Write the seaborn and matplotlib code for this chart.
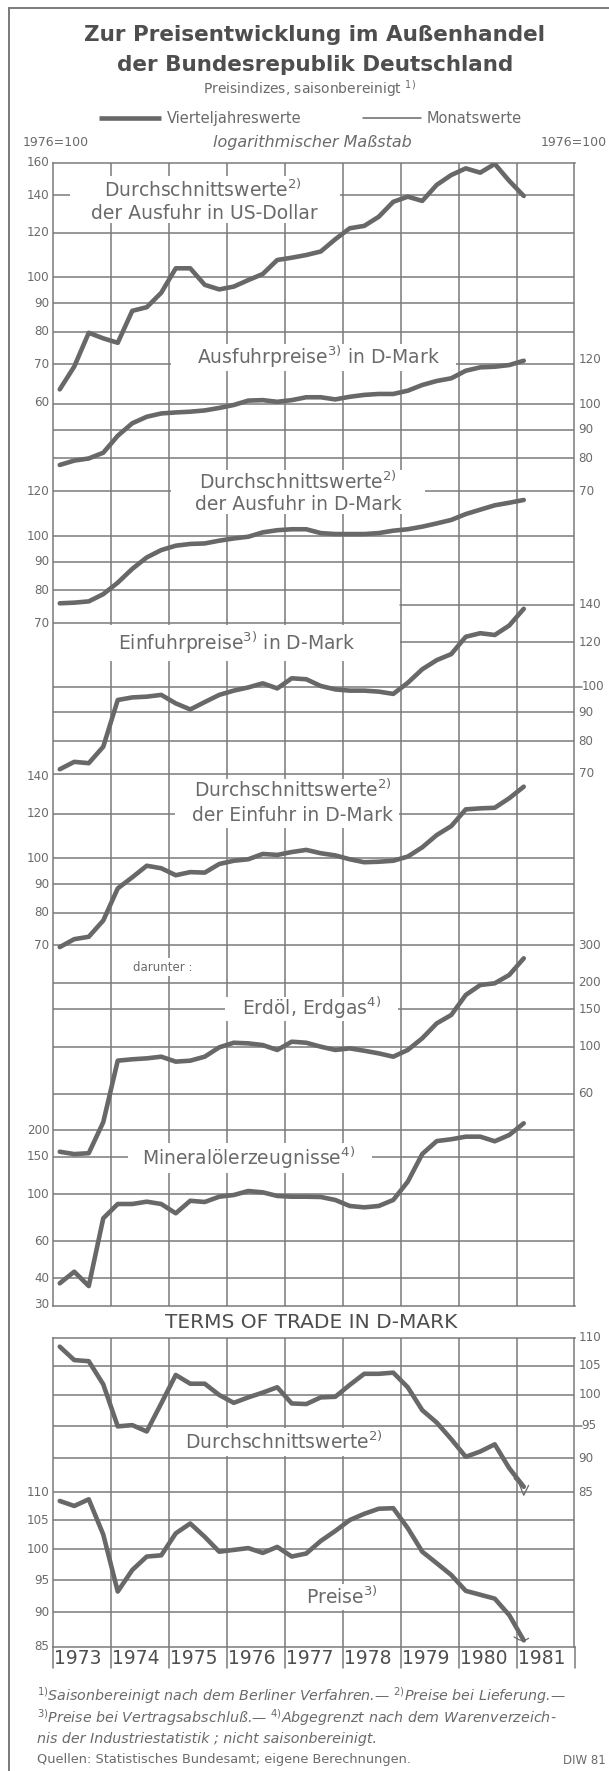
import matplotlib
matplotlib.use('Agg')
import matplotlib.pyplot as plt
from matplotlib.patches import Rectangle
import pandas as pd
import seaborn as sns

# --- Daten (Quartalswerte 1973 Q1 bis 1981 Q1, 1976 = 100) ---
QUARTERS = pd.period_range('1973Q1', '1981Q1', freq='Q')
YEAR_LABELS = ['1973', '1974', '1975', '1976', '1977', '1978', '1979', '1980', '1981']

EXP_USD = [63.2, 69.4, 79.7, 77.9, 76.5, 87.2, 88.5, 93.9, 103.8, 103.8, 97.0,
           95.2, 96.3, 98.9, 101.4, 107.4, 108.4, 109.6, 111.2, 116.9, 122.3,
           123.5, 128.2, 136.3, 139.2, 136.8, 146.1, 152.1, 156.3, 153.6, 159.2,
           148.5, 139.6]
EXP_PRICES = [77.9, 79.3, 80.0, 81.9, 87.8, 92.4, 94.9, 96.2, 96.6, 96.9, 97.4,
              98.4, 99.6, 101.4, 101.6, 100.9, 101.6, 102.8, 102.8, 101.9, 103.0,
              103.8, 104.2, 104.2, 105.6, 108.1, 109.9, 111.1, 114.6, 116.2,
              116.5, 117.3, 119.4]
EXP_AVG = [75.9, 76.1, 76.5, 78.8, 82.6, 87.4, 91.6, 94.4, 96.1, 96.8, 97.0,
           98.1, 99.0, 99.7, 101.5, 102.4, 102.8, 102.8, 101.2, 100.8, 100.8,
           100.8, 101.2, 102.2, 102.8, 103.9, 105.3, 106.8, 109.4, 111.4, 113.4,
           114.6, 115.9]
IMP_PRICES = [71.3, 73.5, 73.1, 78.2, 94.7, 95.7, 96.0, 96.7, 93.4, 91.1, 93.9,
              96.7, 98.4, 99.7, 101.4, 99.3, 103.5, 103.1, 100.3, 98.9, 98.4,
              98.4, 98.0, 97.1, 101.6, 107.4, 111.5, 114.3, 122.7, 124.5, 123.6,
              128.5, 137.6]
IMP_AVG = [69.5, 71.8, 72.5, 77.5, 88.4, 92.5, 97.0, 96.0, 93.3, 94.5, 94.3,
           97.7, 99.0, 99.6, 101.8, 101.4, 102.6, 103.5, 102.1, 101.2, 99.6,
           98.4, 98.6, 99.0, 100.7, 104.6, 110.0, 114.1, 122.2, 122.7, 123.0,
           127.9, 134.1]
OIL_GAS = [31.9, 31.1, 31.4, 44.0, 85.9, 87.2, 88.1, 89.7, 85.0, 85.9, 89.7,
           99.3, 104.4, 103.7, 101.8, 96.5, 105.6, 104.4, 100.0, 96.5, 98.2,
           95.7, 93.0, 89.7, 96.5, 109.6, 128.9, 141.2, 175.5, 195.6, 199.3,
           218.2, 261.5]
MINERAL = [37.9, 43.0, 36.8, 76.8, 89.7, 89.7, 92.0, 89.7, 81.1, 92.9, 91.7,
           97.1, 98.9, 103.3, 101.8, 97.9, 97.1, 97.1, 96.8, 93.7, 87.8, 86.5,
           87.8, 93.7, 114.3, 154.4, 177.7, 181.2, 186.4, 186.4, 177.3, 189.8,
           215.6]
TOT_AVG = [108.4, 106.0, 105.8, 101.8, 94.9, 95.1, 94.1, 98.6, 103.4, 101.9,
           101.9, 100.0, 98.7, 99.6, 100.4, 101.3, 98.6, 98.5, 99.6, 99.7, 101.7,
           103.6, 103.6, 103.8, 101.3, 97.5, 95.5, 92.9, 90.2, 91.0, 92.1, 88.5,
           85.8]
TOT_PRICES = [108.4, 107.5, 108.7, 102.5, 93.2, 96.6, 98.8, 99.0, 102.7, 104.4,
              102.1, 99.6, 99.9, 100.2, 99.4, 100.4, 98.8, 99.3, 101.4, 103.1,
              105.0, 106.1, 107.0, 107.1, 103.6, 99.6, 97.7, 95.8, 93.3, 92.7,
              92.1, 89.6, 85.9]

# Monatswerte am aktuellen Rand (Terms of Trade)
MONTHS = pd.period_range('1980-12', '1981-03', freq='M')
TOT_AVG_M = [87.0, 86.3, 84.6, 86.0]
TOT_PRICES_M = [86.4, 86.0, 85.8, 86.2]

# Skalenbeschriftungen
TICKS_EXP_USD = [160, 140, 120, 100, 90, 80, 70, 60]
TICKS_EXP_PRICES = [120, 100, 90, 80, 70]
TICKS_EXP_AVG = [120, 100, 90, 80, 70]
TICKS_IMP_PRICES = [140, 120, 100, 90, 80, 70]
TICKS_IMP_AVG = [140, 120, 100, 90, 80, 70]
TICKS_OIL = [300, 200, 150, 100, 60]
TICKS_MINERAL = [200, 150, 100, 60, 40, 30]
TICKS_TOT_AVG = [110, 105, 100, 95, 90, 85]
TICKS_TOT_PRICES = [110, 105, 100, 95, 90, 85]

# --- Layout (Pixel) ---
W, H, DPI = 609, 1771, 100
PX0, PX1 = 52.5, 574.5
MAIN = (162.7, 1306.0)
TOT = (1338.0, 1646.7)
LINE = '#686868'
GRID = '#7a7a7a'
TEXT = '#6a6a6a'
DARK = '#4e4e4e'
F = (1973, 1982)

sns.set_theme(style='white')
plt.rcParams['font.family'] = ['DejaVu Sans']
plt.rcParams['mathtext.fontset'] = 'dejavusans'

fig = plt.figure(figsize=(W / DPI, H / DPI), dpi=DPI, facecolor='white')


def rect(panel):
    top, bottom = panel
    return [PX0 / W, 1 - bottom / H, (PX1 - PX0) / W, (bottom - top) / H]


def yr(px):
    return 1973 + (px - PX0) * 9 / (PX1 - PX0)


def scale_axes(panel, y100, dec, z):
    top, bottom = panel
    ax = fig.add_axes(rect(panel), zorder=z)
    ax.set_yscale('log')
    ax.set_ylim(100 * 10 ** (-(bottom - y100) / dec), 100 * 10 ** ((y100 - top) / dec))
    ax.set_xlim(1973, 1982)
    ax.axis('off')
    ax.patch.set_visible(False)
    return ax


def overlay(z):
    ax = fig.add_axes([0, 0, 1, 1], zorder=z)
    ax.set_xlim(0, W)
    ax.set_ylim(H, 0)
    ax.axis('off')
    ax.patch.set_visible(False)
    return ax


# Rahmen und senkrechte Gitterlinien
for panel in (MAIN, TOT):
    ax = fig.add_axes(rect(panel), zorder=1)
    ax.set_xlim(1973, 1982)
    ax.set_xticks([])
    ax.set_yticks([])
    ax.patch.set_visible(False)
    for s in ax.spines.values():
        s.set_visible(True)
        s.set_color(GRID)
        s.set_linewidth(1.1)
    for y in range(1974, 1982):
        ax.axvline(y, color=GRID, lw=1.1)

quarter_x = QUARTERS.year + (QUARTERS.quarter - 0.5) / 4
month_x = MONTHS.year + (MONTHS.month - 0.5) / 12

scales = [
    (MAIN, 277.4, 562, 'left', TICKS_EXP_USD, EXP_USD,
     {140: F, 120: F, 100: F, 90: F, 80: F, 70: F}, []),
    (MAIN, 404.0, 562, 'right', TICKS_EXP_PRICES, EXP_PRICES,
     {100: F, 90: F, 80: F, 70: F}, []),
    (MAIN, 536.0, 562, 'left', TICKS_EXP_AVG, EXP_AVG,
     {100: F, 90: F, 80: (1973, 1979), 70: (1973, 1979)}, []),
    (MAIN, 686.7, 562, 'right', TICKS_IMP_PRICES, IMP_PRICES,
     {140: (1979, 1982), 120: (1979, 1982), 100: F, 90: F, 80: F, 70: F}, [100]),
    (MAIN, 858.3, 562, 'left', TICKS_IMP_AVG, IMP_AVG,
     {120: F, 100: F, 90: F, 80: F, 70: F}, []),
    (MAIN, 1046.7, 211.7, 'right', TICKS_OIL, OIL_GAS,
     {200: F, 150: F, 100: F, 60: F}, []),
    (MAIN, 1194.0, 212.0, 'left', TICKS_MINERAL, MINERAL,
     {200: F, 150: F, 100: F, 60: F, 40: F}, []),
    (TOT, 1395.0, 1380, 'right', TICKS_TOT_AVG, TOT_AVG,
     {105: F, 100: F, 95: F, 90: F, 85: F}, [95]),
    (TOT, 1549.3, 1380, 'left', TICKS_TOT_PRICES, TOT_PRICES,
     {105: F, 100: F, 95: F, 90: F}, []),
]

data_axes = []
for panel, y100, dec, side, ticks, values, grid, ext in scales:
    gax = scale_axes(panel, y100, dec, 1)
    for v, (a, b) in grid.items():
        gax.axhline(v, xmin=(a - 1973) / 9, xmax=(b - 1973) / 9, color=GRID, lw=1.1)
    for v in ticks:
        if side == 'left':
            gax.text(yr(PX0 - 3), v, str(v), ha='right', va='center',
                     fontsize=8.6, color=TEXT)
        else:
            x0 = PX1 + (7 if v in ext else 4)
            gax.text(yr(x0), v, str(v), ha='left', va='center',
                     fontsize=8.6, color=TEXT)
    for v in ext:
        gax.plot([1982, yr(PX1 + 7)], [v, v], color=GRID, lw=1.1, clip_on=False)
    dax = scale_axes(panel, y100, dec, 3)
    sns.lineplot(x=quarter_x, y=values, ax=dax, color=LINE, linewidth=3.3,
                 estimator=None, sort=False, solid_joinstyle='round',
                 solid_capstyle='round')
    data_axes.append(dax)

# duenne Monatslinien am Ende der Terms of Trade
sns.lineplot(x=month_x, y=TOT_AVG_M, ax=data_axes[7], color=LINE, linewidth=0.9,
             estimator=None, sort=False)
sns.lineplot(x=month_x, y=TOT_PRICES_M, ax=data_axes[8], color=LINE, linewidth=0.9,
             estimator=None, sort=False)

# weisse Freiflaechen fuer die Beschriftungen
ax_box = overlay(2)
boxes = [(70, 176, 340, 223), (171, 344, 456, 371), (171, 470, 425, 514),
         (54, 625, 399.5, 661), (175, 779, 399, 828), (125, 958, 203, 976),
         (225, 997, 398, 1021), (128, 1143, 372, 1173), (171, 1428, 398, 1456),
         (294, 1584, 390, 1610)]
for x0, y0, x1, y1 in boxes:
    ax_box.add_patch(Rectangle((x0, y0), x1 - x0, y1 - y0, facecolor='white',
                               edgecolor='none'))

# Texte
ax_t = overlay(4)
ax_t.plot([8.5, 8.5], [8, H], color=GRID, lw=1.4)
ax_t.plot([8.5, W], [8, 8], color=GRID, lw=1.4)

ax_t.text(315, 35, 'Zur Preisentwicklung im Außenhandel', ha='center', va='center',
          fontsize=15.5, fontweight='bold', color=DARK)
ax_t.text(315, 65, 'der Bundesrepublik Deutschland', ha='center', va='center',
          fontsize=15.5, fontweight='bold', color=DARK)
ax_t.text(309, 89, 'Preisindizes, saisonbereinigt $^{1)}$', ha='center', va='center',
          fontsize=10, color=TEXT)
ax_t.plot([99, 161], [118, 118], color=LINE, lw=3.3, solid_capstyle='butt')
ax_t.text(167, 118, 'Vierteljahreswerte', ha='left', va='center', fontsize=10.5,
          color=TEXT)
ax_t.plot([363, 421], [118, 118], color=LINE, lw=1.1)
ax_t.text(427, 118, 'Monatswerte', ha='left', va='center', fontsize=10.5, color=TEXT)
ax_t.text(23, 142, '1976=100', ha='left', va='center', fontsize=9, color=TEXT)
ax_t.text(312, 142, 'logarithmischer Maßstab', ha='center', va='center',
          fontsize=11.5, style='italic', color=TEXT)
ax_t.text(607, 142, '1976=100', ha='right', va='center', fontsize=9, color=TEXT)

labels = [
    (203, 190, 'Durchschnittswerte$^{2)}$'),
    (204, 213, 'der Ausfuhr in US-Dollar'),
    (318, 357, 'Ausfuhrpreise$^{3)}$ in D-Mark'),
    (298, 482, 'Durchschnittswerte$^{2)}$'),
    (298, 504, 'der Ausfuhr in D-Mark'),
    (237, 643, 'Einfuhrpreise$^{3)}$ in D-Mark'),
    (293, 790, 'Durchschnittswerte$^{2)}$'),
    (293, 815, 'der Einfuhr in D-Mark'),
    (312, 1008, 'Erdöl, Erdgas$^{4)}$'),
    (249, 1158, 'Mineralölerzeugnisse$^{4)}$'),
    (284, 1442, 'Durchschnittswerte$^{2)}$'),
    (342, 1597, 'Preise$^{3)}$'),
]
for x, y, s in labels:
    ax_t.text(x, y, s, ha='center', va='center', fontsize=13.5, color=TEXT)
ax_t.text(163, 967, 'darunter :', ha='center', va='center', fontsize=8.5, color=TEXT)
ax_t.text(311, 1323, 'TERMS OF TRADE IN D-MARK', ha='center', va='center',
          fontsize=14.5, color=DARK)

# Jahresleiste
for i in range(10):
    x = PX0 + i * (PX1 - PX0) / 9
    ax_t.plot([x, x], [TOT[1], 1668], color=GRID, lw=1.1)
for i, lab in enumerate(YEAR_LABELS):
    x = PX0 + i * (PX1 - PX0) / 9
    ax_t.text(x + 2, 1659, lab, ha='left', va='center', fontsize=13.5, color=DARK)

# Fussnoten
notes = [
    (1696, '$^{1)}$Saisonbereinigt nach dem Berliner Verfahren.— $^{2)}$Preise bei Lieferung.—'),
    (1718, '$^{3)}$Preise bei Vertragsabschluß.— $^{4)}$Abgegrenzt nach dem Warenverzeich-'),
    (1739, 'nis der Industriestatistik ; nicht saisonbereinigt.'),
]
for y, s in notes:
    ax_t.text(37, y, s, ha='left', va='center', fontsize=10.3, style='italic', color=TEXT)
ax_t.text(37, 1759, 'Quellen: Statistisches Bundesamt; eigene Berechnungen.',
          ha='left', va='center', fontsize=9.3, color=TEXT)
ax_t.text(606, 1760, 'DIW 81', ha='right', va='center', fontsize=8.5, color=TEXT)

fig.savefig('out.png', dpi=DPI, facecolor='white')
